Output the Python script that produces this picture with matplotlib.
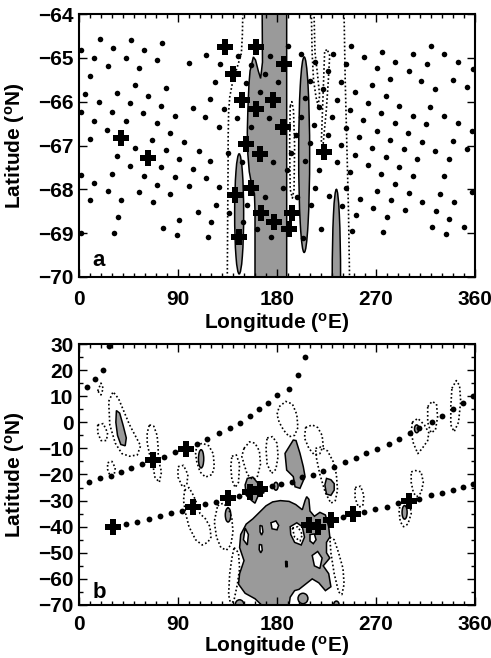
import matplotlib
matplotlib.use('Agg')
import matplotlib.pyplot as plt
from matplotlib.patches import Ellipse, Polygon
from matplotlib.ticker import MultipleLocator

plt.rcParams['font.family'] = ['Liberation Sans', 'DejaVu Sans']
plt.rcParams['font.weight'] = 'bold'
plt.rcParams['mathtext.fontset'] = 'custom'
plt.rcParams['mathtext.rm'] = 'Liberation Sans:bold'
plt.rcParams['mathtext.bf'] = 'Liberation Sans:bold'
plt.rcParams['mathtext.it'] = 'Liberation Sans:bold'

GRAY = '#9a9a9a'

# ---------------- Panel a data ----------------
a_dot_lon = [1.5, 18.8, 47.0, 75.5, 30.9, 59.1, 13.6, 43.0, 71.2, 26.4, 54.5, 9.7, 50.6, 79.1, 5.2, 34.5, 62.7,
             17.9, 46.4, 74.9, 1.5, 30.0, 58.5, 87.0, 13.6, 42.4, 70.6, 25.8, 83.0, 9.7, 66.7, 50.6, 79.1, 34.5,
             90.9, 46.7, 74.9, 1.5, 30.0, 58.8, 87.0, 13.6, 70.9, 26.4, 54.9, 83.0, 10.0, 38.5, 67.3, 35.5, 90.9,
             1.5, 31.8, 76.0, 88.8,
             115.8, 144.5, 99.7, 128.2, 156.0, 173.3, 168.8, 180.9, 123.3, 152.1, 164.2, 119.4, 103.3, 131.5,
             172.4, 114.8, 143.9, 127.3, 156.0, 95.5, 109.1, 135.5, 148.2, 119.4, 176.7, 103.3, 115.8, 99.7,
             127.6, 168.8, 124.2, 153.0, 108.2, 136.4, 120.3, 149.4, 161.8, 174.8, 117.3,
             190.0, 202.1, 214.2, 230.9, 247.0, 259.1, 243.0, 271.2, 210.3, 226.4, 238.5, 266.6, 222.1, 250.6,
             205.1, 234.5, 262.7, 218.2, 246.7, 201.8, 230.3, 258.5, 213.6, 242.4, 270.6, 197.6, 226.4, 254.5,
             209.7, 238.2, 266.6, 193.0, 250.6, 205.7, 234.5, 262.7, 189.4, 218.2, 246.7, 185.4, 214.2, 243.0,
             270.9, 198.2, 226.9, 255.1, 210.6, 239.1, 267.3, 251.5, 219.7, 248.2, 203.6,
             275.5, 303.3, 320.0, 332.1, 287.6, 316.1, 344.2, 357.9, 299.7, 283.0, 310.9, 340.3, 323.9, 352.7,
             279.1, 291.2, 319.4, 274.5, 303.3, 332.1, 287.3, 315.5, 344.2, 357.3, 298.8, 282.7, 311.5, 340.3,
             352.4, 295.1, 323.9, 279.1, 307.3, 336.1, 291.2, 274.8, 303.3, 332.1, 287.3, 357.3, 299.7, 328.5,
             283.6, 311.8, 340.6, 296.1, 324.5, 279.7, 336.7, 320.6, 349.7, 276.7, 333.6]
a_dot_lat = [-64.83, -64.57, -64.60, -64.66, -64.78, -64.83, -65.00, -65.00, -65.06, -65.18, -65.24, -65.42,
             -65.63, -65.69, -65.82, -65.80, -65.86, -66.01, -66.03, -66.09, -66.23, -66.23, -66.26, -66.32,
             -66.43, -66.44, -66.49, -66.64, -66.71, -66.85, -66.87, -67.06, -67.11, -67.25, -67.31, -67.46,
             -67.50, -67.67, -67.65, -67.69, -67.72, -67.85, -67.90, -68.04, -68.07, -68.11, -68.25, -68.25,
             -68.28, -68.64, -68.69, -69.00, -68.99, -68.89, -69.04,
             -64.93, -64.96, -65.12, -65.15, -65.16, -64.95, -65.37, -65.54, -65.56, -65.57, -65.77, -65.94,
             -66.14, -66.16, -66.38, -66.34, -66.38, -66.57, -66.58, -66.93, -67.13, -67.17, -67.38, -67.36,
             -67.38, -67.53, -67.74, -67.93, -67.95, -68.17, -68.35, -68.36, -68.52, -68.55, -68.74, -68.75,
             -68.91, -69.09, -69.08,
             -64.72, -64.91, -65.10, -64.91, -64.74, -64.98, -65.15, -65.24, -65.52, -65.31, -65.56, -65.63,
             -65.72, -65.78, -65.92, -65.96, -66.03, -66.13, -66.18, -66.34, -66.35, -66.42, -66.54, -66.59,
             -66.66, -66.75, -66.76, -66.81, -66.95, -66.98, -67.05, -67.17, -67.21, -67.36, -67.38, -67.44,
             -67.57, -67.56, -67.61, -67.98, -67.97, -67.98, -68.04, -68.17, -68.16, -68.21, -68.36, -68.37,
             -68.42, -68.58, -68.90, -68.94, -69.11,
             -64.86, -64.92, -64.72, -64.92, -65.10, -65.14, -65.10, -65.25, -65.31, -65.48, -65.52, -65.51,
             -65.72, -65.67, -65.86, -66.09, -66.13, -66.26, -66.32, -66.32, -66.49, -66.52, -66.49, -66.67,
             -66.71, -66.88, -66.91, -66.90, -67.08, -67.09, -67.12, -67.27, -67.31, -67.31, -67.48, -67.66,
             -67.70, -67.70, -67.88, -68.07, -68.08, -68.10, -68.25, -68.30, -68.28, -68.47, -68.49, -68.64,
             -68.68, -68.87, -68.85, -68.98, -69.02]

a_cross_lon = [37.9, 62.7, 132.4, 160.6, 140.3, 148.2, 176.4, 160.6, 152.1, 164.2, 156.7, 141.5, 165.8,
               177.0, 145.4, 186.0, 185.4, 222.4, 193.6, 190.9]
a_cross_lat = [-66.83, -67.28, -64.76, -64.76, -65.37, -65.97, -65.97, -66.16, -66.96, -67.19, -67.97,
               -68.14, -68.55, -68.75, -69.09, -65.14, -66.57, -67.15, -68.55, -68.90]

# filled band (lon, lat)
a_band_lon = [166.5, 188.8, 188.8, 160.0, 160.0, 159.5, 157.0, 154.8, 153.5, 153.0, 153.5, 154.5, 155.5,
              158.5, 160.5, 163.0, 165.1, 166.8]
a_band_lat = [-63.9, -63.9, -70.1, -70.1, -68.5, -68.1, -67.9, -67.6, -67.2, -66.7, -66.2, -65.6, -65.3,
              -64.98, -65.05, -65.3, -65.47, -65.1]
# ellipses: centre lon, centre lat, width (deg lon), height (deg lat)
a_ell_lon = [145.6, 204.7, 234.0]
a_ell_lat = [-68.56, -67.21, -70.0]
a_ell_w = [8.2, 10.0, 7.6]
a_ell_h = [2.74, 4.46, 4.0]

# dotted contours
a_dotted = [
    ([149.0, 148.5, 147.6, 144.0, 140.0, 137.0, 136.0, 135.6, 135.5, 135.2, 134.8],
     [-63.9, -64.5, -64.9, -65.2, -65.5, -65.9, -66.25, -66.8, -67.55, -68.5, -70.1]),
    ([211.2, 211.9, 213.2, 215.5, 217.3, 218.8, 216.5, 214.5, 213.6],
     [-63.9, -64.87, -65.5, -65.9, -66.09, -65.86, -65.3, -64.87, -63.9]),
    ([223.3, 221.8, 220.3, 222.0, 224.8, 226.7, 227.9, 225.5, 223.3],
     [-64.87, -65.9, -66.93, -66.95, -66.2, -65.5, -64.95, -64.8, -64.87]),
    ([192.0, 191.5, 192.0, 194.0, 195.5, 196.0, 195.0, 193.5, 192.0],
     [-66.1, -67.0, -68.0, -68.2, -68.0, -67.0, -66.2, -66.0, -66.1]),
    ([240.9, 242.0, 243.5, 245.0, 246.0],
     [-63.9, -65.5, -67.0, -68.5, -70.1]),
]

# ---------------- Panel b data ----------------
b_dot_lon = [9.1, 18.8, 28.8, 38.5, 47.6, 57.3, 77.3, 87.6, 107.3, 116.7, 127.0, 137.0, 146.0, 155.8, 163.6,
             171.8, 180.3, 190.5, 198.8, 205.6, 7.6, 14.9, 21.8, 27.0,
             43.0, 53.0, 63.3, 73.3, 84.0, 93.6, 114.2, 124.8, 145.4, 175.0, 184.0, 193.6, 202.7, 212.7, 221.8,
             231.5, 241.5, 251.5, 261.2, 271.2, 281.5, 291.2, 300.9, 309.4, 320.6, 329.7, 339.7, 349.4, 357.9,
             239.8, 259.1, 269.4, 279.7, 289.7, 309.4, 320.0, 329.7, 339.7, 349.4, 358.5]
b_dot_lat = [-22.7, -21.5, -20.4, -18.9, -17.4, -16.0, -13.2, -11.5, -8.3, -6.4, -4.2, -2.3, -0.1, 2.4, 5.0,
             7.5, 10.4, 12.9, 18.1, 25.2, 13.4, 16.6, 20.0, 29.2,
             -39.1, -38.1, -37.1, -35.9, -34.6, -33.9, -31.4, -30.4, -28.1, -24.5, -23.6, -22.7, -21.1, -20.2,
             -18.5, -17.0, -15.3, -13.6, -11.9, -10.1, -8.3, -6.3, -4.2, -2.3, 0.0, 2.4, 5.0, 7.5, 10.1,
             -36.4, -34.2, -33.3, -32.3, -31.0, -29.4, -28.0, -27.0, -25.9, -24.7, -23.6]

b_cross_lon = [30.9, 67.3, 97.6, 103.6, 135.5, 155.3, 164.7, 209.0, 217.0, 229.0, 249.0, 299.7]
b_cross_lat = [-40.3, -14.4, -10.4, -32.3, -29.1, -26.8, -25.5, -39.2, -40.1, -37.3, -35.3, -30.2]

# gray regions (polygons)
b_gray_polys = [
    # main region
    ([166, 160, 151, 145, 146, 150, 146, 147, 152, 158, 164, 170, 176, 183, 191, 197, 203, 205.5, 207, 209,
      210, 214, 219, 224, 227, 228, 225, 225, 228, 222, 227, 229, 224, 218, 212, 206, 200, 196, 192, 191],
     [-70, -67.6, -65.5, -62, -58, -53, -48, -43, -39, -37, -34.5, -32, -30.5, -30, -30.3, -31.5, -33.5, -30,
      -28.5, -29.5, -34, -36, -34.5, -35.5, -40, -44, -46, -50, -52, -55, -58, -63, -64.5, -61.5, -60, -62,
      -64, -64.5, -67, -70]),
    # tongue near crosses
    ([151, 153, 158, 162, 164, 168, 168, 163, 160, 157, 152],
     [-24, -21.5, -21, -23, -24.5, -25, -27, -28, -31, -30, -28]),
    # tall blob near 195E
    ([194.8, 197.3, 200.9, 203.9, 205.5, 200.9, 196.4, 194.8, 188.8, 187.3],
     [-6.8, -7.0, -11.9, -17.0, -20.8, -25.3, -24.7, -20.8, -18.3, -11.9]),
    # blob near 228E
    ([225, 229, 232, 232, 229, 225, 223.5],
     [-21.5, -22, -23.5, -26, -28, -27.5, -24]),
    # teardrop near 37E
    ([34, 37, 40, 43, 42, 38, 35, 33.5],
     [4.5, 3.5, -1, -6, -9, -8.5, -5, 0]),
]
# gray ellipses: lon, lat, width, height
b_ell_lon = [111.0, 135.5, 179.0, 307.0, 296.0, 146.0, 203.6, 234.0]
b_ell_lat = [-14.0, -35.5, -24.5, -2.5, -34.5, -70.0, -67.5, -70.0]
b_ell_w = [4.8, 5.0, 4.0, 4.0, 4.6, 8.0, 9.0, 5.0]
b_ell_h = [7.0, 5.4, 3.0, 3.0, 5.2, 4.0, 4.0, 3.0]
# white holes (polygons)
b_hole_polys = [
    ([164.5, 166.5, 167.2, 166.0, 164.6], [-39.5, -39.8, -42.0, -43.2, -42.0]),
    ([164.0, 166.0, 166.6, 165.2, 163.8], [-46.8, -47.0, -49.0, -50.0, -48.8]),
    ([174.5, 179.0, 181.5, 180.0, 175.5], [-38.5, -37.8, -39.5, -41.2, -40.8]),
    ([210.0, 214.0, 215.5, 213.0, 210.0], [-43.0, -42.8, -45.0, -46.5, -45.5]),
    ([187.8, 189.2, 189.4, 188.0], [-53.2, -53.4, -55.4, -55.3]),
    ([192.0, 198.0, 203.0, 205.0, 202.0, 196.0, 192.5], [-40.0, -38.5, -40.0, -44.0, -47.0, -46.0, -43.0]),
    ([151.0, 154.0, 153.0, 149.5], [-40.5, -43.0, -47.0, -45.0]),
    ([212.0, 217.0, 221.0, 219.0, 214.0], [-51.0, -49.5, -52.0, -56.0, -55.0]),
]

# dotted contours
b_dotted = [
    ([27, 31, 36, 41, 46, 51, 56, 53, 46, 39, 33, 28], [8, 11.7, 9, 4, -1, -5, -9, -12.5, -13, -12, -8, -1]),
    ([17, 20, 22, 20, 17], [12, 15, 13, 10.5, 12]),
    ([17, 22, 26, 25, 20, 17], [-1, -0.5, -4, -7, -7, -4]),
    ([26, 30, 33, 32, 28, 26], [-15.5, -15, -17.5, -20, -20.3, -18]),
    ([64, 68, 71, 72, 72, 75, 73, 69, 67, 64, 62, 62], [-1, -1.5, -5, -10, -14, -19, -23, -21, -16, -12, -8, -4]),
    ([107, 112, 118, 122, 123, 121, 115, 110, 107, 106], [-9, -8, -9, -12, -17, -20, -21, -19, -15, -12]),
    ([90, 95, 99, 98, 94, 90], [-17, -16.5, -20, -24, -24.7, -21]),
    ([96, 100, 104, 107, 110, 115, 119, 120, 117, 112, 106, 100, 97, 95],
     [-26, -25, -28, -31, -35, -37, -40, -44, -46, -47, -45, -40, -35, -30]),
    ([126, 131, 136, 139, 140, 138, 134, 129, 125, 123], [-32, -31, -33, -37, -42, -47, -49, -48, -44, -38]),
    ([139, 143, 146, 145, 142, 139, 138], [-13, -12.5, -16, -23, -25, -22, -17]),
    ([150, 155, 160, 164, 165, 162, 158, 153, 150, 148], [-10, -7.5, -8, -11, -16, -21, -22, -20, -16, -13]),
    ([171, 176, 180, 181, 179, 175, 171, 170], [-6, -5.5, -8, -13, -18, -19.6, -16, -10]),
    ([141, 145, 146, 144, 141, 138, 136, 137, 139], [-48, -50, -56, -62, -68, -70, -66, -58, -52]),
    ([182, 188, 194, 198, 199, 196, 191, 186, 182, 180], [6, 8, 7, 3, -2, -5, -5.5, -3, 0, 3]),
    ([206, 212, 217, 221, 222, 219, 214, 209, 205], [-2, -1, -2, -5, -9, -12, -12.5, -10, -6]),
    ([215, 220, 226, 231, 234, 235, 233, 229, 224, 219, 216], [-10, -9.5, -11, -15, -20, -26, -30, -31, -27, -20, -14]),
    ([228, 232, 236, 240, 241, 239, 236, 232, 229], [-44, -45, -50, -56, -62, -66, -65, -58, -50]),
    ([251, 256, 259, 258, 254, 251], [-25, -24.5, -28, -32, -32.5, -29]),
    ([303, 308, 314, 318, 317, 312, 308, 304, 302], [0, 1.5, -1, -4, -7, -10, -12, -8, -4]),
    ([317, 321, 325, 326, 324, 320, 317], [6, 8, 7, 2, -3, -4, 0]),
    ([339, 343, 346, 347, 345, 341, 338, 338], [13, 16, 14, 8, 0, -3.6, -1, 6]),
    ([302, 306, 311, 313, 311, 307, 304, 302], [-19, -18.5, -19, -23, -27, -28.5, -27, -23]),
    ([292, 297, 301, 302, 299, 295, 292, 291], [-31, -30, -32, -35, -39, -40, -38, -34]),
    ([194, 199, 203, 201, 196], [-40.5, -40, -43, -45.5, -44]),
]

x_ticks = [0, 90, 180, 270, 360]
a_yticks = [-70, -69, -68, -67, -66, -65, -64]
b_yticks = [30, 20, 10, 0, -10, -20, -30, -40, -50, -60, -70]

DOT = (0, (1, 1.4))

fig = plt.figure(figsize=(4.91, 6.58), dpi=100)
axa = fig.add_axes([79 / 491, (658 - 277) / 658, 396 / 491, 263 / 658])
axb = fig.add_axes([79 / 491, (658 - 605) / 658, 396 / 491, 261 / 658])


def style(ax, yticks, yminor, xpad, xlabpad):
    ax.set_xlim(0, 360)
    ax.set_xticks(x_ticks)
    ax.xaxis.set_minor_locator(MultipleLocator(10))
    ax.set_yticks(yticks)
    if yminor:
        ax.yaxis.set_minor_locator(MultipleLocator(yminor))
    ax.tick_params(which='both', direction='in', top=True, right=True, width=1.0, labelsize=15)
    ax.tick_params(axis='x', which='major', pad=xpad)
    ax.tick_params(axis='y', which='major', pad=4)
    ax.tick_params(which='major', length=6)
    ax.tick_params(which='minor', length=3)
    for s in ax.spines.values():
        s.set_linewidth(1.5)
    ax.set_xlabel(r'Longitude ($\mathregular{^o}$E)', fontsize=15, fontweight='bold', labelpad=xlabpad)
    ax.set_ylabel(r'Latitude ($\mathregular{^o}$N)', fontsize=15, fontweight='bold', labelpad=8)


# ---- panel a ----
axa.add_patch(Polygon(list(zip(a_band_lon, a_band_lat)), closed=True, fc=GRAY, ec='black', lw=1.1, zorder=1))
for lo, la, w, h in zip(a_ell_lon, a_ell_lat, a_ell_w, a_ell_h):
    axa.add_patch(Ellipse((lo, la), w, h, fc=GRAY, ec='black', lw=1.1, zorder=1))
for xs, ys in a_dotted:
    axa.plot(xs, ys, color='black', lw=1.2, ls=DOT, zorder=2)
axa.plot(a_dot_lon, a_dot_lat, 'o', color='black', ms=4.0, mew=0, zorder=3)
axa.plot(a_cross_lon, a_cross_lat, 'P', color='black', ms=11, mew=0, zorder=4)
axa.set_ylim(-70, -64)
style(axa, a_yticks, None, 9, 2)
axa.text(12, -69.75, 'a', fontsize=16, fontweight='bold', va='baseline')

# ---- panel b ----
for xs, ys in b_gray_polys:
    axb.add_patch(Polygon(list(zip(xs, ys)), closed=True, fc=GRAY, ec='black', lw=1.1, zorder=1))
for lo, la, w, h in zip(b_ell_lon, b_ell_lat, b_ell_w, b_ell_h):
    axb.add_patch(Ellipse((lo, la), w, h, fc=GRAY, ec='black', lw=1.1, zorder=1))
for xs, ys in b_hole_polys:
    axb.add_patch(Polygon(list(zip(xs, ys)), closed=True, fc='white', ec='black', lw=1.1, zorder=1.5))
for xs, ys in b_dotted:
    axb.plot(list(xs) + [xs[0]], list(ys) + [ys[0]], color='black', lw=1.2, ls=DOT, zorder=2)
axb.plot(b_dot_lon, b_dot_lat, 'o', color='black', ms=4.2, mew=0, zorder=3)
axb.plot(b_cross_lon, b_cross_lat, 'P', color='black', ms=11, mew=0, zorder=4)
axb.set_ylim(-70, 30)
style(axb, b_yticks, 5, 7, 0.5)
axb.text(12, -67.5, 'b', fontsize=16, fontweight='bold', va='baseline')

fig.savefig('out.png', dpi=100)
